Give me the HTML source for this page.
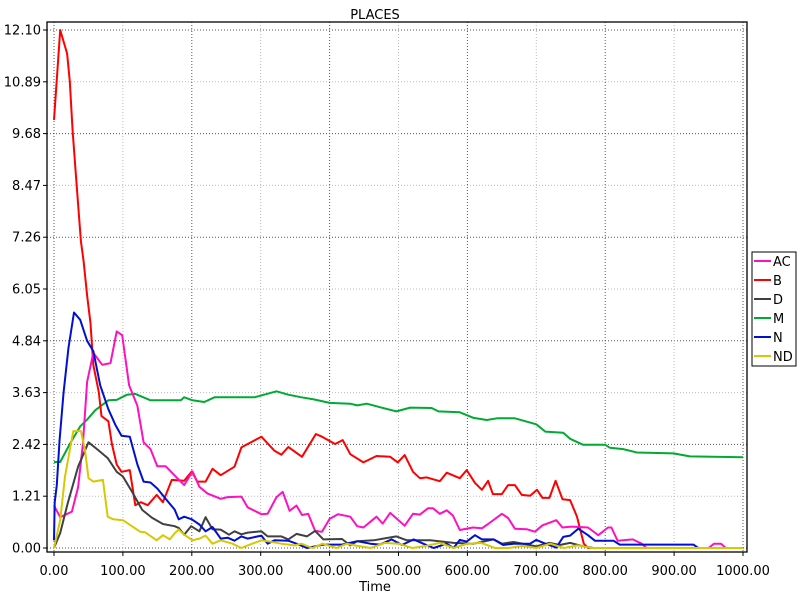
<!DOCTYPE html>
<html><head><meta charset="utf-8"><style>
html,body{margin:0;padding:0;background:#fff;}
svg{display:block;font-family:"DejaVu Sans","Liberation Sans",sans-serif;}
</style></head><body>
<svg id="chart" width="800" height="600" viewBox="0 0 800 600" xmlns="http://www.w3.org/2000/svg">
<rect width="800" height="600" fill="#fff"/>
<text x="375" y="19" text-anchor="middle" font-size="13">PLACES</text>
<text x="375" y="591" text-anchor="middle" font-size="13">Time</text>
<g id="grid"></g>
<g id="series"></g>
<g id="axes"></g>
<g id="legend">
<rect x="752" y="252" width="44" height="114" fill="#fff" stroke="#000" stroke-width="1"/>
</g>
</svg>
<script>
const yTicks=[0,1.21,2.42,3.63,4.84,6.05,7.26,8.47,9.68,10.89,12.10];
const xTicks=[0,100,200,300,400,500,600,700,800,900,1000];
const seriesNames=["AC","B","D","M","N","ND"];
const seriesColors=["#ff10c0","#ff0000","#404040","#00aa33","#0010d0","#d8c800"];

const tAC=[0,9,26,35,42,48,57,70,82,91,99,109,121,130,140,150,162,179,189,201,211,223,242,252,272,281,301,310,323,332,342,352,360,369,379,389,400,412,430,440,449,468,477,488,509,521,531,543,550,560,570,579,589,608,621,630,650,659,669,686,698,709,729,738,751,775,790,804,809,818,840,853,860,950,958,968,975,1000];
const vAC=[0.99,0.72,0.85,1.42,2.43,3.88,4.56,4.28,4.32,5.06,4.97,3.8,3.32,2.47,2.31,1.91,1.91,1.63,1.47,1.79,1.43,1.27,1.15,1.19,1.2,0.95,0.79,0.8,1.19,1.31,0.87,0.99,0.77,0.8,0.4,0.38,0.68,0.79,0.73,0.51,0.48,0.73,0.57,0.82,0.52,0.8,0.78,0.93,0.93,0.8,0.88,0.76,0.42,0.48,0.46,0.56,0.8,0.7,0.45,0.44,0.38,0.53,0.65,0.48,0.5,0.48,0.3,0.48,0.48,0.17,0.2,0.1,0,0,0.1,0.1,0,0];
const tB=[0,9,19,23,27,33,39,43,48,53,57,65,69,79,84,91,98,110,118,126,136,149,158,171,189,200,208,220,230,242,262,272,301,320,330,340,360,380,389,408,419,430,449,468,488,499,509,521,531,541,560,570,589,599,611,621,630,637,650,659,669,679,691,701,709,719,728,738,749,759,769,775,1000];
const vB=[10.0,12.1,11.55,10.9,9.75,8.46,7.17,6.7,5.9,5.25,4.28,3.64,3.08,2.96,2.43,1.95,1.78,1.82,1.0,1.07,1.0,1.24,1.07,1.59,1.57,1.79,1.55,1.55,1.85,1.7,1.9,2.35,2.6,2.27,2.18,2.36,2.13,2.66,2.6,2.43,2.52,2.19,2.0,2.15,2.13,2.0,2.17,1.78,1.63,1.65,1.56,1.76,1.63,1.82,1.52,1.36,1.57,1.26,1.26,1.47,1.47,1.24,1.22,1.36,1.17,1.17,1.57,1.14,1.12,0.73,0.1,0,0];
const tD=[0,9,20,35,50,64,78,91,100,113,128,142,158,175,181,189,199,211,220,230,242,254,262,272,281,301,310,330,340,352,367,379,391,418,430,440,464,497,512,546,580,609,638,650,667,700,719,734,749,768,783,830];
const vD=[0,0.35,1.05,1.9,2.47,2.29,2.1,1.78,1.67,1.32,0.89,0.71,0.56,0.51,0.47,0.31,0.51,0.39,0.72,0.44,0.43,0.31,0.39,0.32,0.36,0.39,0.27,0.27,0.2,0.33,0.27,0.4,0.2,0.21,0.06,0.16,0.18,0.27,0.18,0.18,0.12,0.1,0.2,0.1,0.14,0.04,0.12,0.07,0.12,0.04,0,0];
const tM=[0,9,23,38,48,60,79,91,106,118,140,184,189,201,218,233,291,323,340,359,377,400,430,440,454,473,497,517,548,558,589,609,628,643,669,700,713,739,749,768,800,807,826,846,899,923,1000];
const vM=[2.01,2.01,2.43,2.84,3.0,3.22,3.45,3.46,3.58,3.6,3.45,3.45,3.52,3.45,3.41,3.52,3.52,3.66,3.58,3.52,3.47,3.39,3.37,3.33,3.37,3.29,3.19,3.28,3.27,3.19,3.17,3.04,2.99,3.03,3.03,2.89,2.72,2.69,2.55,2.41,2.41,2.34,2.31,2.23,2.21,2.14,2.12];
const tN=[0,1,4,8,14,21,29,38,48,57,67,79,89,98,110,121,130,140,150,162,175,181,189,200,211,220,230,242,252,262,272,281,301,310,320,340,352,367,379,391,418,440,459,473,490,505,522,536,551,570,580,589,599,611,621,638,652,667,691,700,713,729,739,749,761,775,785,812,821,928,935,1000];
const vN=[0.18,1.07,1.47,2.5,3.64,4.68,5.5,5.33,4.84,4.6,3.8,3.24,2.88,2.62,2.6,1.95,1.55,1.53,1.39,1.15,0.9,0.67,0.73,0.67,0.55,0.39,0.49,0.22,0.24,0.17,0.27,0.22,0.29,0.1,0.18,0.17,0.1,0,0.04,0.08,0.08,0.16,0.1,0.08,0.2,0.07,0.2,0.1,0,0.1,0,0.19,0.15,0.3,0.2,0.2,0.07,0.1,0.1,0.19,0.1,0.01,0.26,0.29,0.45,0.3,0.17,0.17,0.08,0.08,0,0];
const tND=[0,9,16,23,28,39,45,50,57,71,78,86,100,113,125,132,149,158,168,175,181,189,201,211,220,230,242,259,272,281,301,310,330,349,359,375,390,410,425,440,460,480,500,520,540,560,580,600,620,640,660,680,700,720,740,760,780,1000];
const vND=[0,0.65,1.67,2.29,2.73,2.73,2.29,1.63,1.55,1.59,0.73,0.67,0.65,0.51,0.38,0.37,0.18,0.3,0.2,0.34,0.43,0.31,0.18,0.22,0.29,0.1,0.18,0.1,0,0.06,0.18,0.16,0.1,0.06,0.1,0,0.1,0,0.1,0.05,0,0.12,0.1,0,0.05,0.12,0,0.1,0.12,0,0,0.05,0,0.1,0,0.06,0,0];

const seriesT=[tAC,tB,tD,tM,tN,tND];
const seriesV=[vAC,vB,vD,vM,vN,vND];

const NS="http://www.w3.org/2000/svg";
const X0=54,X1=743,Y0=548,Y1=30,YMAX=12.10,XMAX=1000;
function xs(t){return X0+(X1-X0)*t/XMAX;}
function ys(v){return Y0-(Y0-Y1)*v/YMAX;}
function mk(tag,attrs,parent){const e=document.createElementNS(NS,tag);for(const k in attrs)e.setAttribute(k,attrs[k]);parent.appendChild(e);return e;}

const grid=document.getElementById('grid');
const axes=document.getElementById('axes');
yTicks.forEach((v,i)=>{
  const g=mk('line',{x1:47,x2:747,y1:ys(v),y2:ys(v),stroke:i%2===0?'#555':'#bbb','stroke-width':1,'stroke-dasharray':'1,2'},grid);
  
  
  mk('line',{x1:43,x2:47,y1:ys(v),y2:ys(v),stroke:'#000'},axes);
  const tx=mk('text',{x:41,y:ys(v)+4.5,'text-anchor':'end','font-size':13},axes);
  tx.textContent=v.toFixed(2);
  
  
});
xTicks.forEach((t,i)=>{
  const g=mk('line',{x1:xs(t),x2:xs(t),y1:22,y2:552,stroke:i%2===0?'#555':'#bbb','stroke-width':1,'stroke-dasharray':'1,2'},grid);
  
  
  mk('line',{x1:xs(t),x2:xs(t),y1:552,y2:556,stroke:'#000'},axes);
  const tx=mk('text',{x:xs(t),y:575,'text-anchor':'middle','font-size':13},axes);
  tx.textContent=t.toFixed(2);
  
  
});
const frame=mk('rect',{x:47,y:22,width:700,height:530,fill:'none',stroke:'#000','stroke-width':1.3},axes);



const sg=document.getElementById('series');
const order=[3,1,0,2,4,5];
order.forEach(i=>{
  const pts=seriesT[i].map((t,j)=>xs(t).toFixed(1)+','+ys(seriesV[i][j]).toFixed(1)).join(' ');
  const p=mk('polyline',{points:pts,fill:'none',stroke:seriesColors[i],'stroke-width':2,'stroke-linejoin':'round'},sg);
  
  
});

const lg=document.getElementById('legend');
seriesNames.forEach((n,i)=>{
  const y=261+i*19;
  const l=mk('line',{x1:754,x2:771,y1:y,y2:y,stroke:seriesColors[i],'stroke-width':2},lg);
  
  
  const tx=mk('text',{x:773,y:y+5,'font-size':13},lg);
  tx.textContent=n;
  
  
});
</script>
</body></html>
